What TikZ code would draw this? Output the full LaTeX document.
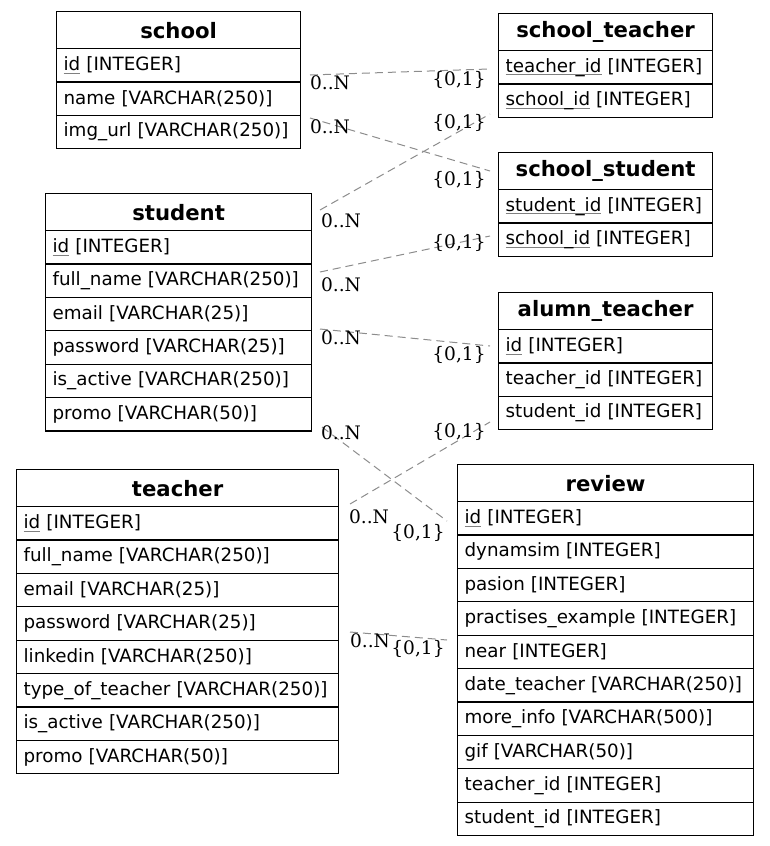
\documentclass[tikz,border=0pt]{standalone}
\usepackage{fontspec}
\setmainfont{DejaVu Serif}
\newfontfamily\tabfont{DejaVu Sans}
\usetikzlibrary{calc}
\definecolor{edgegray}{RGB}{140,140,140}
\newsavebox\keybox
\newcommand\key[1]{\sbox\keybox{#1}\rlap{\color{gray}\rule[-3.2pt]{\wd\keybox}{0.9pt}}#1}
\tikzset{
  hdr/.style={draw, line width=1.2pt, anchor=north west, minimum height=37pt, inner xsep=0pt, inner ysep=0pt,
    font=\tabfont\bfseries\fontsize{21.2}{24}\selectfont, align=center},
  rowbox/.style={draw, line width=1.2pt, anchor=north west, minimum height=33.4pt, inner xsep=7pt, inner ysep=0pt,
    font=\tabfont\fontsize{18.3}{22}\selectfont, align=left},
  rel/.style={draw=edgegray, line width=1pt, dash pattern=on 8pt off 5pt},
  card/.style={font=\fontsize{18.6}{22}\selectfont, inner sep=0pt}
}
% #1 name, #2 x, #3 y, #4 width, #5 title, #6 rows
\newcommand\dbtable[6]{%
  \node[hdr, minimum width=#4pt, text width=#4pt] (#1) at (#2,#3) {#5};
  \foreach \t [count=\i] in {#6} {
    \node[rowbox, minimum width=#4pt, text width={#4pt-14pt}] (#1-\i) at ({#2},{#3+37+(\i-1)*33.4}) {\mbox{\t}};
  }
}
\begin{document}
\begin{tikzpicture}[x=1pt,y=-1pt]
\useasboundingbox (0,0) rectangle (769,846);

\dbtable{school}{56}{11}{244}{school}{\key{id} [INTEGER], name [VARCHAR(250)], img\_url [VARCHAR(250)]}
\dbtable{schoolteacher}{498}{13}{214}{school\_teacher}{\key{teacher\_id} [INTEGER], \key{school\_id} [INTEGER]}
\dbtable{schoolstudent}{498}{152}{214}{school\_student}{\key{student\_id} [INTEGER], \key{school\_id} [INTEGER]}
\dbtable{student}{45}{193}{266}{student}{\key{id} [INTEGER], full\_name [VARCHAR(250)], email [VARCHAR(25)], password [VARCHAR(25)], is\_active [VARCHAR(250)], promo [VARCHAR(50)]}
\dbtable{alumnteacher}{498}{292}{214}{alumn\_teacher}{\key{id} [INTEGER], teacher\_id [INTEGER], student\_id [INTEGER]}
\dbtable{teacher}{16}{469}{322}{teacher}{\key{id} [INTEGER], full\_name [VARCHAR(250)], email [VARCHAR(25)], password [VARCHAR(25)], linkedin [VARCHAR(250)], type\_of\_teacher [VARCHAR(250)], is\_active [VARCHAR(250)], promo [VARCHAR(50)]}
\dbtable{review}{457}{464}{296}{review}{\key{id} [INTEGER], dynamsim [INTEGER], pasion [INTEGER], practises\_example [INTEGER], near [INTEGER], date\_teacher [VARCHAR(250)], more\_info [VARCHAR(500)], gif [VARCHAR(50)], teacher\_id [INTEGER], student\_id [INTEGER]}

% connector end points
\coordinate (a1) at (310,75);  \coordinate (b1) at (489,69);
\coordinate (a2) at (310,118); \coordinate (b2) at (490,171);
\coordinate (a3) at (320,210); \coordinate (b3) at (490,114);
\coordinate (a4) at (320,272); \coordinate (b4) at (490,236);
\coordinate (a5) at (320,329); \coordinate (b5) at (490,346);
\coordinate (a6) at (322,427); \coordinate (b6) at (447,521);
\coordinate (a7) at (350,504); \coordinate (b7) at (490,422);
\coordinate (a8) at (350,632); \coordinate (b8) at (447,640);

\foreach \k in {1,...,8} { \draw[rel] (a\k) -- (b\k); }

\node[card] (n1) at (330,83) {0..N};  \node[card] (m1) at (459,80) {\{0,1\}};
\node[card] (n2) at (330,127) {0..N}; \node[card] (m2) at (459,180) {\{0,1\}};
\node[card] (n3) at (341,221) {0..N}; \node[card] (m3) at (459,123) {\{0,1\}};
\node[card] (n4) at (341,285) {0..N}; \node[card] (m4) at (459,243) {\{0,1\}};
\node[card] (n5) at (341,338) {0..N}; \node[card] (m5) at (459,355) {\{0,1\}};
\node[card] (n6) at (341,433) {0..N}; \node[card] (m6) at (418,533) {\{0,1\}};
\node[card] (n7) at (369,517) {0..N}; \node[card] (m7) at (459,432) {\{0,1\}};
\node[card] (n8) at (370,641) {0..N}; \node[card] (m8) at (418,649) {\{0,1\}};
\end{tikzpicture}
\end{document}
